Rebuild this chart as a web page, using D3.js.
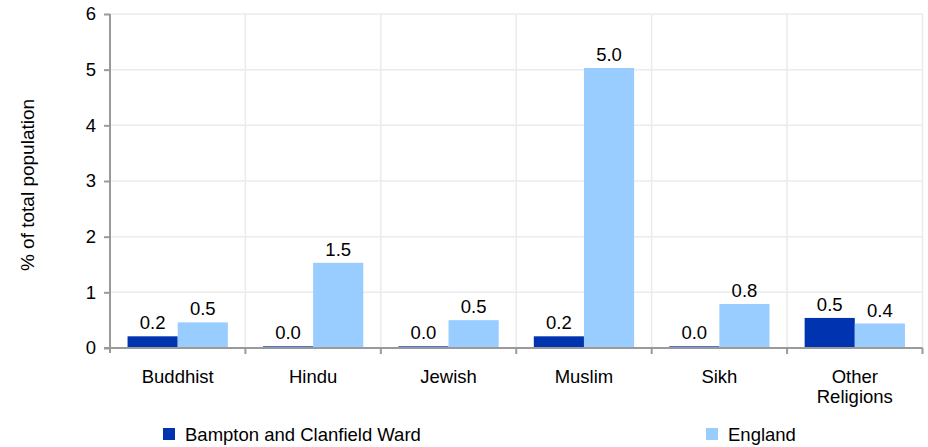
<!DOCTYPE html>
<html>
<head>
<meta charset="utf-8">
<script src="https://cdn.jsdelivr.net/npm/d3@7"></script>
<style>
  html, body { margin: 0; padding: 0; background: #fff; }
  svg { display: block; font-family: "Liberation Sans", Arial, sans-serif; }
</style>
</head>
<body>
<svg id="chart" width="928" height="447"></svg>
<script>
const categories = ["Buddhist", "Hindu", "Jewish", "Muslim", "Sikh", "Other Religions"];
const seriesNames = ["Bampton and Clanfield Ward", "England"];
const bamptonValues = [0.21, 0.03, 0.03, 0.21, 0.03, 0.54];
const englandValues = [0.46, 1.53, 0.50, 5.03, 0.79, 0.44];
const yTicks = [0, 1, 2, 3, 4, 5, 6];
const colors = ["#0033b0", "#99ccff"];

const svg = d3.select("#chart");
const margin = { left: 110, right: 5.5, top: 14, bottom: 99 };
const W = 928, H = 447;
const x0 = margin.left, x1 = W - margin.right;
const yTop = margin.top, yBot = H - margin.bottom;
const FS = 18.5;

const x = d3.scaleBand().domain(categories).range([x0, x1]).paddingInner(0).paddingOuter(0);
const xs = d3.scaleBand().domain(seriesNames).range([0, x.bandwidth()]).paddingInner(0).paddingOuter(0.35);
const y = d3.scaleLinear().domain([0, 6]).range([yBot, yTop]);

const grid = "#ebebeb", axisC = "#9a9a9a";

// horizontal gridlines
svg.append("g").selectAll("line").data(yTicks.filter(d => d > 0)).join("line")
  .attr("x1", x0).attr("x2", x1)
  .attr("y1", d => y(d)).attr("y2", d => y(d))
  .attr("stroke", grid).attr("stroke-width", 1.5);
// vertical gridlines
svg.append("g").selectAll("line").data(categories.slice(1).concat(["__end"])).join("line")
  .attr("x1", d => d === "__end" ? x1 : x(d)).attr("x2", d => d === "__end" ? x1 : x(d))
  .attr("y1", yTop).attr("y2", yBot)
  .attr("stroke", grid).attr("stroke-width", 1.5);

const data = categories.map((c, i) => ({ c, vals: [bamptonValues[i], englandValues[i]] }));
const groups = svg.append("g").selectAll("g").data(data).join("g")
  .attr("transform", d => `translate(${x(d.c)},0)`);

groups.selectAll("rect").data(d => d.vals.map((v, j) => ({ v, s: seriesNames[j], j }))).join("rect")
  .attr("x", d => xs(d.s)).attr("width", xs.bandwidth())
  .attr("y", d => y(d.v)).attr("height", d => yBot - y(d.v))
  .attr("fill", d => colors[d.j]);

groups.selectAll("text.val").data(d => d.vals.map((v, j) => ({ v, s: seriesNames[j], j }))).join("text")
  .attr("class", "val")
  .attr("x", d => xs(d.s) + xs.bandwidth() / 2)
  .attr("y", d => y(d.v) - 7)
  .attr("text-anchor", "middle")
  .attr("font-size", FS).attr("fill", "#000")
  .text(d => d3.format(".1f")(d.v));

// y axis
const yAxis = d3.axisLeft(y).tickValues(yTicks).tickSize(6).tickPadding(8).tickFormat(d3.format("d"));
const gy = svg.append("g").attr("transform", `translate(${x0},0)`).call(yAxis);
gy.select(".domain").remove();
gy.append("line").attr("x1", 0).attr("x2", 0).attr("y1", yTop).attr("y2", yBot + 5)
  .attr("stroke", axisC).attr("stroke-width", 2);
gy.selectAll(".tick line").attr("stroke", axisC).attr("stroke-width", 2);
gy.selectAll(".tick text").attr("font-size", FS).attr("fill", "#000")
  .attr("font-family", "Liberation Sans, Arial, sans-serif");

// x axis
const gx = svg.append("g").attr("transform", `translate(0,${yBot})`);
gx.append("line").attr("x1", x0 - 6).attr("x2", x1).attr("y1", 0).attr("y2", 0)
  .attr("stroke", axisC).attr("stroke-width", 2);
gx.selectAll("line.tk").data(categories.slice(1).concat(["__end"])).join("line").attr("class", "tk")
  .attr("x1", d => d === "__end" ? x1 : x(d)).attr("x2", d => d === "__end" ? x1 : x(d))
  .attr("y1", 0).attr("y2", 6).attr("stroke", axisC).attr("stroke-width", 2);

const catLabels = gx.selectAll("text").data(categories).join("text")
  .attr("text-anchor", "middle").attr("font-size", FS).attr("fill", "#000")
  .attr("transform", d => `translate(${x(d) + x.bandwidth() / 2},35)`);
catLabels.each(function(d) {
  const words = d === "Other Religions" ? ["Other", "Religions"] : [d];
  d3.select(this).selectAll("tspan").data(words).join("tspan")
    .attr("x", 0).attr("dy", (w, i) => i === 0 ? 0 : 20).text(w => w);
});

// y title
svg.append("text").attr("transform", `translate(34,${(yTop + yBot) / 2 + 4}) rotate(-90)`)
  .attr("text-anchor", "middle").attr("font-size", 19).attr("fill", "#000")
  .text("% of total population");

// legend
const legendX = [163, 706];
const lg = svg.append("g").selectAll("g").data(seriesNames).join("g")
  .attr("transform", (d, i) => `translate(${legendX[i]},428)`);
lg.append("rect").attr("width", 12).attr("height", 12).attr("fill", (d, i) => colors[i]);
lg.append("text").attr("x", 22).attr("y", 13).attr("font-size", FS).attr("fill", "#000").text(d => d);
</script>
</body>
</html>
